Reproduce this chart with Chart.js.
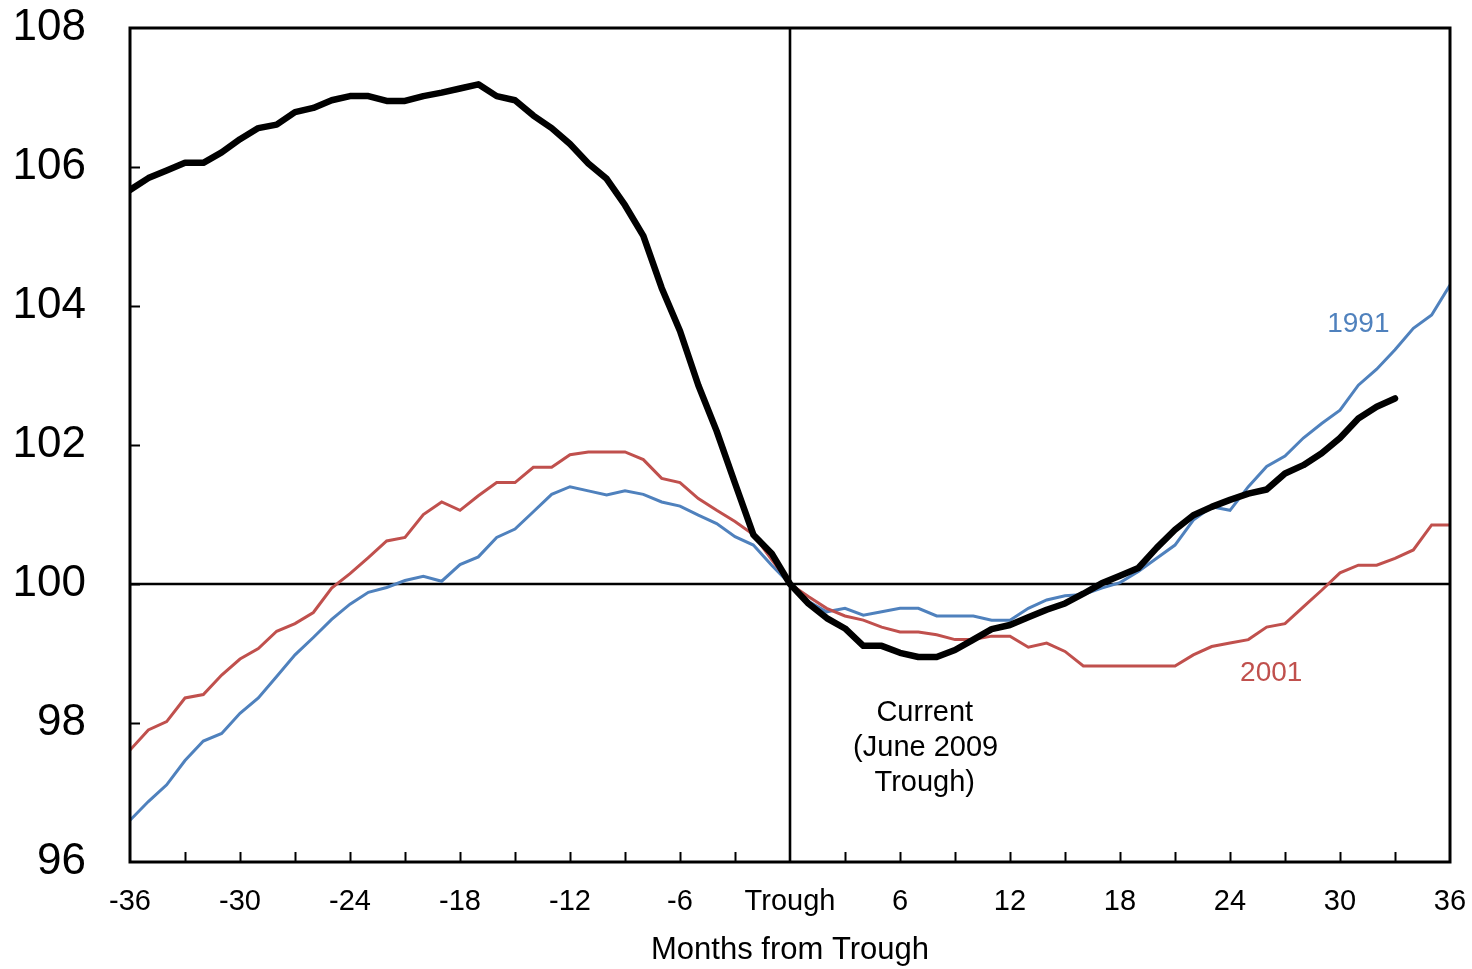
<!DOCTYPE html>
<html><head><meta charset="utf-8">
<script src="https://cdn.jsdelivr.net/npm/chart.js@4/dist/chart.umd.min.js"></script>
<style>html,body{margin:0;padding:0;background:#fff;}#wrap{width:1472px;height:969px;}</style>
</head><body><div id="wrap"><canvas id="c" width="1472" height="969"></canvas></div>
<script>
// Months from trough
const months = [-36,-35,-34,-33,-32,-31,-30,-29,-28,-27,-26,-25,-24,-23,-22,-21,-20,-19,-18,-17,-16,-15,-14,-13,-12,-11,-10,-9,-8,-7,-6,-5,-4,-3,-2,-1,
  0,1,2,3,4,5,6,7,8,9,10,11,12,13,14,15,16,17,18,19,20,21,22,23,24,25,26,27,28,29,30,31,32,33,34,35,36];

// Current (June 2009 trough) – ends at month 33
const current = [105.67,105.84,105.95,106.06,106.06,106.21,106.40,106.56,106.61,106.79,106.85,106.96,107.02,107.02,106.95,106.95,107.02,107.07,107.13,107.19,107.02,106.96,106.74,106.56,106.33,106.05,105.83,105.45,105.01,104.26,103.64,102.86,102.20,101.45,100.71,100.44,
  100.00,99.72,99.51,99.36,99.11,99.11,99.01,98.95,98.95,99.05,99.20,99.35,99.41,99.52,99.63,99.72,99.86,100.01,100.12,100.23,100.52,100.78,100.99,101.11,101.21,101.30,101.36,101.59,101.71,101.88,102.10,102.38,102.55,102.67];

// 1991 trough
const r1991 = [96.60,96.87,97.11,97.46,97.74,97.85,98.14,98.36,98.67,98.98,99.23,99.49,99.71,99.88,99.95,100.05,100.11,100.04,100.28,100.39,100.67,100.79,101.04,101.29,101.40,101.34,101.28,101.34,101.29,101.18,101.12,100.99,100.87,100.68,100.56,100.27,
  100.00,99.75,99.60,99.65,99.55,99.60,99.65,99.65,99.54,99.54,99.54,99.48,99.48,99.65,99.77,99.83,99.85,99.94,100.02,100.18,100.37,100.56,100.92,101.11,101.06,101.40,101.69,101.84,102.10,102.31,102.50,102.86,103.09,103.37,103.68,103.87,104.30];

// 2001 trough
const r2001 = [97.61,97.90,98.02,98.36,98.41,98.69,98.92,99.07,99.32,99.43,99.59,99.94,100.15,100.38,100.62,100.67,101.00,101.18,101.06,101.27,101.46,101.46,101.68,101.68,101.86,101.90,101.90,101.90,101.79,101.52,101.46,101.23,101.06,100.90,100.71,100.35,
  100.00,99.82,99.65,99.54,99.48,99.38,99.31,99.31,99.27,99.20,99.20,99.25,99.25,99.09,99.15,99.03,98.82,98.82,98.82,98.82,98.82,98.82,98.98,99.10,99.15,99.20,99.38,99.43,99.67,99.91,100.16,100.27,100.27,100.37,100.49,100.85,100.85];

// Tick marks
const xMinorTicks = [-33,-30,-27,-24,-21,-18,-15,-12,-9,-6,-3,3,6,9,12,15,18,21,24,27,30,33];
const yMinorTicks = [98,100,102,104,106];
const xLabelStep = 6;
const yLabelStep = 2;

const FONT = '"Liberation Sans", Arial, sans-serif';
const BLUE = '#4F81BD', RED = '#C0504D';

function pts(arr){ return arr.map((v,i)=>({x: months[i], y: v})); }

const deco = {
  id: 'deco',
  beforeDatasetsDraw(chart){
    const {ctx, chartArea:a, scales:{x,y}} = chart;
    ctx.save();
    ctx.strokeStyle = '#000'; ctx.lineWidth = 2.6;
    const y100 = y.getPixelForValue(100), x0 = x.getPixelForValue(0);
    ctx.beginPath(); ctx.moveTo(a.left, y100); ctx.lineTo(a.right, y100); ctx.stroke();
    ctx.beginPath(); ctx.moveTo(x0, a.top); ctx.lineTo(x0, a.bottom); ctx.stroke();
    ctx.restore();
  },
  afterDatasetsDraw(chart){
    const {ctx, chartArea:a, scales:{x,y}} = chart;
    ctx.save();
    ctx.strokeStyle = '#000'; ctx.lineWidth = 3;
    ctx.strokeRect(a.left, a.top, a.right - a.left, a.bottom - a.top);
    ctx.lineWidth = 2;
    xMinorTicks.forEach(v=>{ const px = Math.round(x.getPixelForValue(v))+0.5; ctx.beginPath(); ctx.moveTo(px, a.bottom); ctx.lineTo(px, a.bottom-10); ctx.stroke(); });
    yMinorTicks.forEach(v=>{ const py = Math.round(y.getPixelForValue(v))+0.5; ctx.beginPath(); ctx.moveTo(a.left, py); ctx.lineTo(a.left+10, py); ctx.stroke(); });
    // annotations
    ctx.textAlign = 'center'; ctx.textBaseline = 'middle';
    ctx.font = '28px ' + FONT;
    ctx.fillStyle = BLUE; ctx.fillText('1991', x.getPixelForValue(31.0), y.getPixelForValue(103.73));
    ctx.fillStyle = RED; ctx.fillText('2001', x.getPixelForValue(26.25), y.getPixelForValue(98.72));
    ctx.font = '29px ' + FONT;
    ctx.fillStyle = '#000';
    ctx.fillText('Current', x.getPixelForValue(7.35), y.getPixelForValue(98.14));
    ctx.fillText('(June 2009', x.getPixelForValue(7.4), y.getPixelForValue(97.64));
    ctx.fillText('Trough)', x.getPixelForValue(7.35), y.getPixelForValue(97.14));
    ctx.restore();
  }
};

new Chart(document.getElementById('c'), {
  type: 'line',
  data: {
    datasets: [
      {label:'Current', data: pts(current), borderColor:'#000', borderWidth:6.5, pointRadius:0, tension:0, borderCapStyle:'round', borderJoinStyle:'round', order:0},
      {label:'2001', data: pts(r2001), borderColor:RED, borderWidth:3, pointRadius:0, tension:0, order:1},
      {label:'1991', data: pts(r1991), borderColor:BLUE, borderWidth:3, pointRadius:0, tension:0, order:2}
    ]
  },
  options: {
    responsive:false, animation:false, devicePixelRatio:1,
    layout:{padding:{top:28,right:22,left:0,bottom:0}},
    plugins:{legend:{display:false}, tooltip:{enabled:false}, title:{display:false}},
    scales:{
      x:{type:'linear', min:-36, max:36,
        grid:{display:false, drawTicks:false}, border:{display:false},
        ticks:{stepSize:xLabelStep, padding:23, color:'#000', font:{family:FONT, size:29}, maxRotation:0, autoSkip:false,
          callback:(v)=> v===0 ? 'Trough' : String(v)},
        title:{display:true, text:'Months from Trough', color:'#000', font:{family:FONT, size:31}, padding:{top:0,bottom:0}},
        afterFit:(s)=>{ s.height = 107; s.paddingLeft = 0; s.paddingRight = 0; s.paddingTop = 0; s.paddingBottom = 0; }
      },
      y:{min:96, max:108,
        grid:{display:false, drawTicks:false}, border:{display:false},
        ticks:{stepSize:yLabelStep, padding:44, color:'#000', font:{family:FONT, size:44}},
        afterFit:(s)=>{ s.width = 130; s.paddingTop = 0; s.paddingBottom = 0; s.paddingLeft = 0; s.paddingRight = 0; }
      }
    }
  },
  plugins:[deco]
});
</script></body></html>
